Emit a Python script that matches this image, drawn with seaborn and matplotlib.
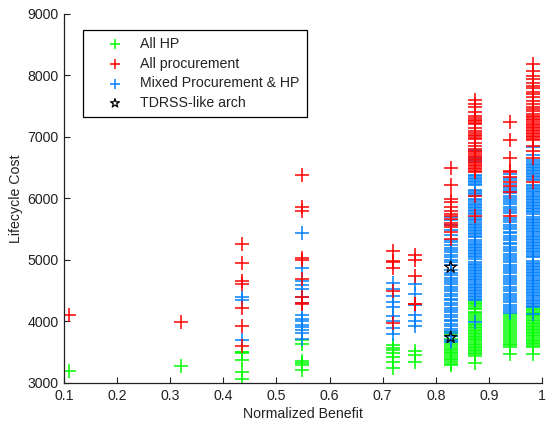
import numpy as np
import pandas as pd
import matplotlib
matplotlib.use("Agg")
import matplotlib.pyplot as plt
import seaborn as sns

# ---------------- data ----------------
benefit_levels = [0.11, 0.32, 0.435, 0.548, 0.72, 0.761, 0.828, 0.873, 0.939, 0.983]

all_hp_cost = [
    [3190],
    [3270],
    [3060, 3185, 3370, 3490, 3500, 3510],
    [3205, 3290, 3320, 3360, 3640, 3690],
    [3250, 3340, 3420, 3480, 3530, 3570, 3620],
    [3340, 3450, 3520],
    [3290, 3310, 3340, 3370, 3390, 3420, 3450, 3480, 3500, 3530, 3560, 3590,
     3620, 3650, 3680, 3720, 3760, 3800, 3830],
    [3320, 3440, 3465, 3490, 3515, 3540, 3565, 3590, 3615, 3640, 3665, 3690,
     3715, 3740, 3765, 3790, 3815, 3840, 3865, 3890, 3915, 3940, 3965, 4010,
     4040, 4070, 4100, 4130, 4150, 4200, 4225, 4250, 4275, 4300, 4325],
    [3470, 3580, 3610, 3640, 3670, 3700, 3730, 3760, 3790, 3820, 3860, 3890,
     3920, 3950, 3990, 4030, 4060, 4090, 4120],
    [3470, 3580, 3605, 3630, 3655, 3680, 3705, 3730, 3755, 3780, 3805, 3830,
     3855, 3880, 3905, 3930, 3955, 3980, 4005, 4030, 4055, 4080, 4105, 4130,
     4155, 4180, 4205, 4230],
]

all_procurement_cost = [
    [4110],
    [3990],
    [3600, 3920, 4220, 4610, 4660, 4950, 5260],
    [4290, 4300, 4400, 4690, 5000, 5030, 5800, 5860, 6380],
    [3970, 4500, 4870, 4960, 4980, 5140],
    [4280, 4290, 4740, 5000, 5080],
    [5340, 5450, 5530, 5560, 5600, 5660, 5710, 5750, 5800, 5860, 5940, 5990,
     6210, 6490],
    [5710, 6030, 6420, 6445, 6470, 6495, 6520, 6545, 6570, 6595, 6620, 6645,
     6670, 6695, 6720, 6745, 6770, 6800, 6850, 6900, 6960, 6985, 7010, 7035,
     7060, 7100, 7150, 7200, 7225, 7250, 7275, 7300, 7330, 7400, 7480, 7530,
     7590],
    [5720, 6100, 6200, 6260, 6340, 6420, 6445, 6660, 6940, 7240],
    [6260, 6660, 6770, 6850, 6940, 6965, 6990, 7015, 7040, 7065, 7090, 7115,
     7140, 7165, 7190, 7215, 7240, 7265, 7290, 7315, 7340, 7370, 7420, 7450,
     7480, 7530, 7580, 7640, 7690, 7720, 7800, 7830, 7880, 7930, 7990, 8070,
     8180],
]

mixed_cost = [
    [],
    [],
    [3700, 4350, 4390],
    [3720, 3810, 3860, 3910, 3940, 4000, 4040, 4100, 4300, 4390, 4530, 4590,
     4660, 4860, 5430],
    [3800, 3900, 4010, 4090, 4230, 4320, 4420, 4530, 4620],
    [3920, 4010, 4110, 4270, 4450, 4610],
    [3660, 3700, 3770, 3810, 3850, 3880, 3920, 3960, 4000, 4030, 4070, 4110,
     4150, 4180, 4220, 4260, 4300, 4340, 4370, 4410, 4450, 4490, 4520, 4560,
     4600, 4640, 4670, 4710, 4750, 4790, 4830, 4920, 4960, 5000, 5040, 5080,
     5120, 5160, 5200, 5240, 5290, 5330, 5400, 5480, 5560, 5640, 5690],
    [3990, 4340, 4365, 4390, 4415, 4440, 4465, 4490, 4515, 4540, 4565, 4590,
     4615, 4640, 4665, 4690, 4715, 4740, 4765, 4790, 4815, 4840, 4865, 4890,
     4915, 4940, 4965, 5015, 5040, 5065, 5090, 5115, 5140, 5165, 5190, 5215,
     5240, 5265, 5290, 5315, 5365, 5390, 5415, 5440, 5465, 5490, 5515, 5540,
     5565, 5590, 5615, 5640, 5665, 5690, 5740, 5765, 5790, 5815, 5840, 5865,
     5890, 5915, 5940, 5965, 5990, 6040, 6065, 6090, 6115, 6140, 6210, 6235,
     6260, 6285, 6310, 6335, 6360, 6385, 6610, 6660, 6790],
    [4130, 4170, 4200, 4240, 4270, 4310, 4350, 4380, 4420, 4450, 4490, 4530,
     4560, 4600, 4640, 4670, 4710, 4740, 4780, 4820, 4850, 4890, 4920, 4960,
     5000, 5030, 5070, 5100, 5140, 5180, 5210, 5250, 5280, 5320, 5360, 5390,
     5430, 5460, 5500, 5540, 5570, 5610, 5650, 5680, 5760, 5790, 5830, 5860,
     5900, 5940, 5970, 6010, 6040, 6080, 6120, 6150, 6190, 6230, 6300, 6330,
     6400],
    [4125, 4230, 4255, 4280, 4305, 4330, 4355, 4380, 4405, 4430, 4455, 4480,
     4505, 4530, 4555, 4580, 4605, 4630, 4655, 4680, 4705, 4730, 4755, 4780,
     4805, 4830, 4855, 4880, 4905, 4930, 4955, 4980, 5045, 5070, 5095, 5120,
     5145, 5170, 5195, 5220, 5245, 5270, 5295, 5320, 5345, 5370, 5395, 5420,
     5445, 5470, 5495, 5520, 5545, 5570, 5595, 5620, 5645, 5670, 5695, 5745,
     5770, 5795, 5820, 5845, 5870, 5895, 5920, 5945, 5970, 5995, 6020, 6045,
     6070, 6095, 6120, 6145, 6170, 6195, 6220, 6290, 6315, 6340, 6365, 6390,
     6415, 6440, 6465, 6490, 6515, 6540, 6565, 6590, 6620, 6700, 6830],
]

tdrss_benefit = [0.828, 0.828]
tdrss_cost = [4880, 3740]

series_names = ["All HP", "All procurement", "Mixed Procurement & HP", "TDRSS-like arch"]
series_colors = ["#00ff00", "#ff0000", "#0080ff", "#000000"]

x_ticks = [0.1, 0.2, 0.3, 0.4, 0.5, 0.6, 0.7, 0.8, 0.9, 1.0]
x_tick_labels = ["0.1", "0.2", "0.3", "0.4", "0.5", "0.6", "0.7", "0.8", "0.9", "1"]
y_ticks = [3000, 4000, 5000, 6000, 7000, 8000, 9000]


def to_frame(cost_lists, name):
    rows = [(b, c) for b, cl in zip(benefit_levels, cost_lists) for c in cl]
    df = pd.DataFrame(rows, columns=["Normalized Benefit", "Lifecycle Cost"])
    df["series"] = name
    return df


df_hp = to_frame(all_hp_cost, series_names[0])
df_proc = to_frame(all_procurement_cost, series_names[1])
df_mixed = to_frame(mixed_cost, series_names[2])
df_tdrss = pd.DataFrame({"Normalized Benefit": tdrss_benefit,
                         "Lifecycle Cost": tdrss_cost,
                         "series": series_names[3]})

# ---------------- style ----------------
sns.set_style("ticks")
plt.rcParams["font.family"] = ["Liberation Sans", "DejaVu Sans"]
text_color = "#222222"
fs = 10.2

fig = plt.figure(figsize=(5.46, 4.26), dpi=100)
ax = fig.add_axes([0.1172, 0.101, 0.8755, 0.867])

plus_kw = dict(marker="+", s=100, linewidth=1.1, ax=ax, legend=False)
sns.scatterplot(data=df_hp, x="Normalized Benefit", y="Lifecycle Cost",
                color=series_colors[0], label=series_names[0], **plus_kw)
sns.scatterplot(data=df_mixed, x="Normalized Benefit", y="Lifecycle Cost",
                color=series_colors[2], label=series_names[2], **plus_kw)
sns.scatterplot(data=df_proc, x="Normalized Benefit", y="Lifecycle Cost",
                color=series_colors[1], label=series_names[1], **plus_kw)
sns.scatterplot(data=df_tdrss, x="Normalized Benefit", y="Lifecycle Cost",
                marker="*", s=80, facecolor="none", edgecolor=series_colors[3],
                linewidth=0.9, label=series_names[3], ax=ax, legend=False,
                zorder=5)

ax.set_xlim(0.1, 1.0)
ax.set_ylim(3000, 9000)
ax.set_xticks(x_ticks)
ax.set_xticklabels(x_tick_labels)
ax.set_yticks(y_ticks)
ax.tick_params(direction="in", length=4, width=0.8, labelsize=fs, pad=4,
               color="#222222", labelcolor=text_color)
sns.despine(ax=ax)
for sp in ("left", "bottom"):
    ax.spines[sp].set_linewidth(0.9)
    ax.spines[sp].set_color("#222222")

ax.set_xlabel("Normalized Benefit", fontsize=fs, color=text_color, labelpad=3)
ax.set_ylabel("Lifecycle Cost", fontsize=fs, color=text_color, labelpad=3)

handles, labels = ax.get_legend_handles_labels()
order = [labels.index(n) for n in series_names]
leg = ax.legend([handles[i] for i in order], [labels[i] for i in order],
                loc="upper left", bbox_to_anchor=(0.04, 0.956), borderaxespad=0,
                frameon=True, fancybox=False, edgecolor="black", framealpha=1,
                fontsize=fs, handlelength=3.5, handletextpad=0.05, borderpad=0.5,
                labelspacing=0.4, scatterpoints=1, markerscale=0.75)
leg.get_frame().set_linewidth(0.9)
for t in leg.get_texts():
    t.set_color(text_color)

fig.savefig("out.png", dpi=100)
